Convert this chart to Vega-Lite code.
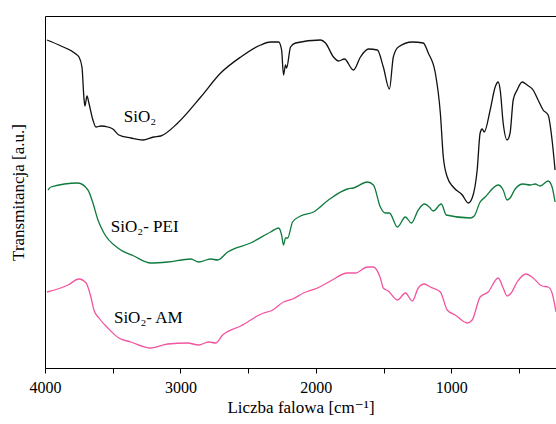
{
  "$schema": "https://vega.github.io/schema/vega-lite/v6.json",
  "width": 511,
  "height": 352,
  "autosize": "none",
  "padding": {"left": 45, "top": 16, "right": 0, "bottom": 56},
  "background": "white",
  "config": {
    "view": {"stroke": null},
    "font": "Liberation Serif, Times New Roman, DejaVu Serif, serif",
    "axis": {"labelFont": "Liberation Serif, Times New Roman, DejaVu Serif, serif", "titleFont": "Liberation Serif, Times New Roman, DejaVu Serif, serif", "domainColor": "#000000", "tickColor": "#000000", "labelColor": "#000000", "titleColor": "#000000", "grid": false}
  },
  "datasets": {
    "spectra": [
      {"s": "SiO2", "wn": 3985, "t": 328}, {"s": "SiO2", "wn": 3882, "t": 322}, {"s": "SiO2", "wn": 3772, "t": 314}, {"s": "SiO2", "wn": 3749, "t": 311}, {"s": "SiO2", "wn": 3727, "t": 301}, {"s": "SiO2", "wn": 3713, "t": 271}, {"s": "SiO2", "wn": 3705, "t": 262}, {"s": "SiO2", "wn": 3690, "t": 272}, {"s": "SiO2", "wn": 3676, "t": 265}, {"s": "SiO2", "wn": 3646, "t": 248}, {"s": "SiO2", "wn": 3624, "t": 241}, {"s": "SiO2", "wn": 3587, "t": 242}, {"s": "SiO2", "wn": 3536, "t": 241}, {"s": "SiO2", "wn": 3499, "t": 239}, {"s": "SiO2", "wn": 3455, "t": 233}, {"s": "SiO2", "wn": 3366, "t": 230}, {"s": "SiO2", "wn": 3278, "t": 228}, {"s": "SiO2", "wn": 3197, "t": 231}, {"s": "SiO2", "wn": 3145, "t": 232}, {"s": "SiO2", "wn": 3020, "t": 245}, {"s": "SiO2", "wn": 2850, "t": 271}, {"s": "SiO2", "wn": 2703, "t": 295}, {"s": "SiO2", "wn": 2555, "t": 311}, {"s": "SiO2", "wn": 2408, "t": 323}, {"s": "SiO2", "wn": 2334, "t": 326}, {"s": "SiO2", "wn": 2275, "t": 326}, {"s": "SiO2", "wn": 2253, "t": 318}, {"s": "SiO2", "wn": 2239, "t": 293}, {"s": "SiO2", "wn": 2224, "t": 303}, {"s": "SiO2", "wn": 2216, "t": 300}, {"s": "SiO2", "wn": 2187, "t": 321}, {"s": "SiO2", "wn": 2150, "t": 325}, {"s": "SiO2", "wn": 1966, "t": 328}, {"s": "SiO2", "wn": 1929, "t": 325}, {"s": "SiO2", "wn": 1870, "t": 311}, {"s": "SiO2", "wn": 1833, "t": 307}, {"s": "SiO2", "wn": 1789, "t": 309}, {"s": "SiO2", "wn": 1723, "t": 298}, {"s": "SiO2", "wn": 1671, "t": 311}, {"s": "SiO2", "wn": 1612, "t": 319}, {"s": "SiO2", "wn": 1546, "t": 318}, {"s": "SiO2", "wn": 1502, "t": 301}, {"s": "SiO2", "wn": 1457, "t": 279}, {"s": "SiO2", "wn": 1428, "t": 311}, {"s": "SiO2", "wn": 1391, "t": 321}, {"s": "SiO2", "wn": 1288, "t": 326}, {"s": "SiO2", "wn": 1207, "t": 325}, {"s": "SiO2", "wn": 1170, "t": 315}, {"s": "SiO2", "wn": 1118, "t": 295}, {"s": "SiO2", "wn": 1081, "t": 255}, {"s": "SiO2", "wn": 1059, "t": 211}, {"s": "SiO2", "wn": 1030, "t": 191}, {"s": "SiO2", "wn": 986, "t": 181}, {"s": "SiO2", "wn": 919, "t": 173}, {"s": "SiO2", "wn": 875, "t": 165}, {"s": "SiO2", "wn": 846, "t": 170}, {"s": "SiO2", "wn": 809, "t": 198}, {"s": "SiO2", "wn": 787, "t": 235}, {"s": "SiO2", "wn": 772, "t": 239}, {"s": "SiO2", "wn": 757, "t": 236}, {"s": "SiO2", "wn": 713, "t": 258}, {"s": "SiO2", "wn": 676, "t": 281}, {"s": "SiO2", "wn": 654, "t": 286}, {"s": "SiO2", "wn": 639, "t": 278}, {"s": "SiO2", "wn": 617, "t": 245}, {"s": "SiO2", "wn": 588, "t": 228}, {"s": "SiO2", "wn": 566, "t": 235}, {"s": "SiO2", "wn": 543, "t": 268}, {"s": "SiO2", "wn": 514, "t": 278}, {"s": "SiO2", "wn": 477, "t": 286}, {"s": "SiO2", "wn": 440, "t": 283}, {"s": "SiO2", "wn": 396, "t": 278}, {"s": "SiO2", "wn": 359, "t": 268}, {"s": "SiO2", "wn": 322, "t": 258}, {"s": "SiO2", "wn": 285, "t": 253}, {"s": "SiO2", "wn": 256, "t": 228}, {"s": "SiO2", "wn": 234, "t": 198},

      {"s": "PEI", "wn": 3978, "t": 178}, {"s": "PEI", "wn": 3956, "t": 181}, {"s": "PEI", "wn": 3757, "t": 185}, {"s": "PEI", "wn": 3683, "t": 178}, {"s": "PEI", "wn": 3646, "t": 165}, {"s": "PEI", "wn": 3609, "t": 148}, {"s": "PEI", "wn": 3565, "t": 135}, {"s": "PEI", "wn": 3462, "t": 120}, {"s": "PEI", "wn": 3344, "t": 112}, {"s": "PEI", "wn": 3219, "t": 105}, {"s": "PEI", "wn": 3094, "t": 106}, {"s": "PEI", "wn": 2924, "t": 109}, {"s": "PEI", "wn": 2865, "t": 106}, {"s": "PEI", "wn": 2777, "t": 109}, {"s": "PEI", "wn": 2725, "t": 108}, {"s": "PEI", "wn": 2651, "t": 116}, {"s": "PEI", "wn": 2482, "t": 125}, {"s": "PEI", "wn": 2334, "t": 136}, {"s": "PEI", "wn": 2275, "t": 140}, {"s": "PEI", "wn": 2253, "t": 133}, {"s": "PEI", "wn": 2239, "t": 123}, {"s": "PEI", "wn": 2224, "t": 130}, {"s": "PEI", "wn": 2209, "t": 130}, {"s": "PEI", "wn": 2172, "t": 146}, {"s": "PEI", "wn": 2113, "t": 152}, {"s": "PEI", "wn": 2017, "t": 156}, {"s": "PEI", "wn": 1907, "t": 168}, {"s": "PEI", "wn": 1767, "t": 179}, {"s": "PEI", "wn": 1723, "t": 180}, {"s": "PEI", "wn": 1619, "t": 186}, {"s": "PEI", "wn": 1575, "t": 183}, {"s": "PEI", "wn": 1524, "t": 161}, {"s": "PEI", "wn": 1487, "t": 155}, {"s": "PEI", "wn": 1457, "t": 155}, {"s": "PEI", "wn": 1398, "t": 141}, {"s": "PEI", "wn": 1339, "t": 151}, {"s": "PEI", "wn": 1295, "t": 145}, {"s": "PEI", "wn": 1244, "t": 158}, {"s": "PEI", "wn": 1199, "t": 164}, {"s": "PEI", "wn": 1163, "t": 161}, {"s": "PEI", "wn": 1133, "t": 157}, {"s": "PEI", "wn": 1074, "t": 164}, {"s": "PEI", "wn": 1037, "t": 153}, {"s": "PEI", "wn": 860, "t": 150}, {"s": "PEI", "wn": 831, "t": 152}, {"s": "PEI", "wn": 787, "t": 166}, {"s": "PEI", "wn": 750, "t": 171}, {"s": "PEI", "wn": 654, "t": 183}, {"s": "PEI", "wn": 617, "t": 178}, {"s": "PEI", "wn": 588, "t": 168}, {"s": "PEI", "wn": 566, "t": 170}, {"s": "PEI", "wn": 529, "t": 179}, {"s": "PEI", "wn": 470, "t": 184}, {"s": "PEI", "wn": 418, "t": 183}, {"s": "PEI", "wn": 381, "t": 184}, {"s": "PEI", "wn": 344, "t": 182}, {"s": "PEI", "wn": 285, "t": 187}, {"s": "PEI", "wn": 256, "t": 181}, {"s": "PEI", "wn": 234, "t": 166},

      {"s": "AM", "wn": 3985, "t": 76}, {"s": "AM", "wn": 3830, "t": 83}, {"s": "AM", "wn": 3749, "t": 89}, {"s": "AM", "wn": 3697, "t": 85}, {"s": "AM", "wn": 3661, "t": 71}, {"s": "AM", "wn": 3639, "t": 58}, {"s": "AM", "wn": 3602, "t": 50}, {"s": "AM", "wn": 3536, "t": 40}, {"s": "AM", "wn": 3455, "t": 30}, {"s": "AM", "wn": 3366, "t": 26}, {"s": "AM", "wn": 3219, "t": 20}, {"s": "AM", "wn": 3094, "t": 24}, {"s": "AM", "wn": 2947, "t": 25}, {"s": "AM", "wn": 2865, "t": 23}, {"s": "AM", "wn": 2792, "t": 26}, {"s": "AM", "wn": 2740, "t": 25}, {"s": "AM", "wn": 2688, "t": 33}, {"s": "AM", "wn": 2555, "t": 42}, {"s": "AM", "wn": 2386, "t": 55}, {"s": "AM", "wn": 2334, "t": 57}, {"s": "AM", "wn": 2239, "t": 66}, {"s": "AM", "wn": 2172, "t": 69}, {"s": "AM", "wn": 2091, "t": 75}, {"s": "AM", "wn": 1988, "t": 80}, {"s": "AM", "wn": 1892, "t": 87}, {"s": "AM", "wn": 1767, "t": 95}, {"s": "AM", "wn": 1708, "t": 95}, {"s": "AM", "wn": 1619, "t": 101}, {"s": "AM", "wn": 1575, "t": 101}, {"s": "AM", "wn": 1524, "t": 90}, {"s": "AM", "wn": 1502, "t": 80}, {"s": "AM", "wn": 1465, "t": 77}, {"s": "AM", "wn": 1398, "t": 68}, {"s": "AM", "wn": 1339, "t": 75}, {"s": "AM", "wn": 1288, "t": 67}, {"s": "AM", "wn": 1244, "t": 80}, {"s": "AM", "wn": 1199, "t": 84}, {"s": "AM", "wn": 1155, "t": 81}, {"s": "AM", "wn": 1081, "t": 76}, {"s": "AM", "wn": 1030, "t": 58}, {"s": "AM", "wn": 971, "t": 53}, {"s": "AM", "wn": 882, "t": 45}, {"s": "AM", "wn": 846, "t": 48}, {"s": "AM", "wn": 787, "t": 71}, {"s": "AM", "wn": 728, "t": 76}, {"s": "AM", "wn": 654, "t": 90}, {"s": "AM", "wn": 617, "t": 80}, {"s": "AM", "wn": 588, "t": 72}, {"s": "AM", "wn": 558, "t": 75}, {"s": "AM", "wn": 514, "t": 86}, {"s": "AM", "wn": 448, "t": 94}, {"s": "AM", "wn": 396, "t": 90}, {"s": "AM", "wn": 330, "t": 82}, {"s": "AM", "wn": 285, "t": 81}, {"s": "AM", "wn": 256, "t": 75}, {"s": "AM", "wn": 227, "t": 56}
    ],
    "labels": [
      {"label": "SiO₂", "wn": 3418, "t": 251},
      {"label": "SiO₂- PEI", "wn": 3514, "t": 141},
      {"label": "SiO₂- AM", "wn": 3491, "t": 50}
    ]
  },
  "layer": [
    {
      "data": {"name": "spectra"},
      "mark": {"type": "line", "strokeWidth": 1.3, "interpolate": "monotone", "clip": true},
      "encoding": {
        "x": {
          "field": "wn", "type": "quantitative",
          "scale": {"domain": [4000, 227], "nice": false, "zero": false},
          "axis": {
            "orient": "bottom",
            "values": [4000, 3500, 3000, 2500, 2000, 1500, 1000, 500],
            "labelExpr": "datum.value % 1000 === 0 ? datum.value : ''",
            "tickSize": 5, "labelFontSize": 16, "labelPadding": 6, "labelFlush": false,
            "title": "Liczba falowa [cm⁻¹]", "titleFontSize": 17, "titleFontWeight": "normal", "titlePadding": 4
          }
        },
        "y": {
          "field": "t", "type": "quantitative",
          "scale": {"domain": [0, 352], "nice": false, "zero": false},
          "axis": {"ticks": false, "labels": false, "title": "Transmitancja [a.u.]", "titleFontSize": 17, "titleFontWeight": "normal", "titlePadding": 18}
        },
        "detail": {"field": "s"},
        "color": {
          "field": "s", "type": "nominal",
          "scale": {"domain": ["SiO2", "PEI", "AM"], "range": ["#111111", "#0e7a3c", "#f2559f"]},
          "legend": null
        }
      }
    },
    {
      "data": {"name": "labels"},
      "mark": {"type": "text", "align": "left", "baseline": "middle", "fontSize": 17, "font": "Liberation Serif, Times New Roman, DejaVu Serif, serif", "color": "#000000"},
      "encoding": {
        "x": {"field": "wn", "type": "quantitative", "axis": {"orient": "top", "labels": false, "ticks": false, "title": null}},
        "y": {"field": "t", "type": "quantitative"},
        "text": {"field": "label"}
      }
    }
  ],
  "resolve": {"axis": {"x": "independent"}}
}
